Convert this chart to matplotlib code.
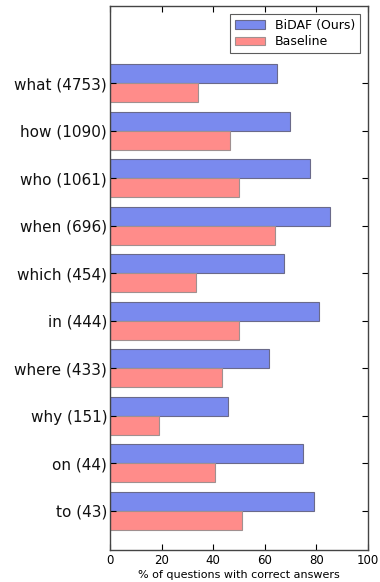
import matplotlib
matplotlib.use('Agg')
import matplotlib.pyplot as plt
import numpy as np

# Question types and their counts
categories = ['what (4753)', 'how (1090)', 'who (1061)', 'when (696)', 'which (454)',
              'in (444)', 'where (433)', 'why (151)', 'on (44)', 'to (43)']
bidaf = [64.7, 69.6, 77.5, 85.1, 67.6, 80.9, 61.8, 45.6, 74.7, 79.1]
baseline = [34.2, 46.6, 49.9, 64.1, 33.2, 49.9, 43.5, 19.0, 40.8, 51.2]

fig = plt.figure(figsize=(3.8, 5.82), dpi=100)
ax = fig.add_axes([0.2895, 0.055, 0.6789, 0.9345])

y = np.arange(len(categories))
h = 0.4
ax.barh(y - h, bidaf, height=h, align='edge', color='#7a8aee',
        edgecolor='#6a6a8a', linewidth=0.8, label='BiDAF (Ours)')
ax.barh(y, baseline, height=h, align='edge', color='#ff8c8a',
        edgecolor='#a09090', linewidth=0.8, label='Baseline')

ax.set_yticks(y)
ax.set_yticklabels(categories, fontsize=11, color='#111111')
ax.set_ylim(len(categories) - 1 + 0.83, -1.62)
ax.set_xlim(0, 100)
ax.set_xticks([0, 20, 40, 60, 80, 100])
ax.tick_params(axis='x', labelsize=8.5, direction='in', top=True, length=4, pad=3)
ax.tick_params(axis='y', direction='in', right=True, length=4, pad=2)
ax.set_xlabel('% of questions with correct answers', fontsize=8, labelpad=2)

for s in ax.spines.values():
    s.set_color('#444444')
    s.set_linewidth(1.0)

ax.legend(loc='upper right', fontsize=9, frameon=True, fancybox=False,
          edgecolor='#333333', handlelength=2.4, borderpad=0.4,
          labelspacing=0.3, borderaxespad=0.6).get_frame().set_linewidth(0.8)

fig.savefig('out.png', dpi=100)
